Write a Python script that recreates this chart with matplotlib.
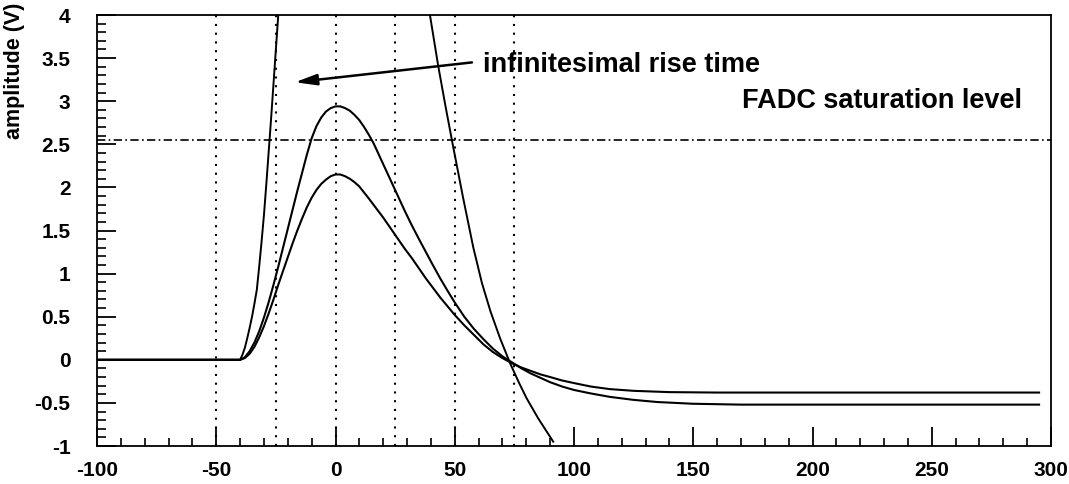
import numpy as np
import matplotlib
matplotlib.use("Agg")
import matplotlib.pyplot as plt
from matplotlib.ticker import MultipleLocator

# pulse with infinitesimal rise time (goes off scale above 4 V)
fast_t = [-100, -40, -39, -38, -37, -36, -35, -34, -33, -32, -31, -30, -29, -28, -27, -26,
          -25, -24, -23, 37.5, 39.6, 43, 46, 49, 53.5, 57.8, 61.4, 65, 69, 73.2, 77, 80.2,
          85, 91.3]
fast_a = [0, 0, 0.06, 0.14, 0.25, 0.37, 0.5, 0.65, 0.81, 1.08, 1.37, 1.68, 2.04, 2.42, 2.8,
          3.2, 3.6, 4.0, 4.4, 4.37, 4.0, 3.42, 2.96, 2.52, 1.88, 1.3, 0.89, 0.56, 0.25, -0.04,
          -0.27, -0.45, -0.68, -0.95]

# taller shaped pulse
tall_t = [-100, -40, -38, -36, -34, -32, -30, -28, -26, -24, -22, -20, -18, -16, -14, -12,
          -10, -8, -6, -4, -2, 0, 2, 4, 6, 8, 10, 12, 14, 16, 18, 20, 23, 26, 29, 32, 35, 38,
          41, 44, 47, 50, 54, 58, 62, 66, 70, 74, 78, 82, 86, 90, 95, 100, 107, 115, 125,
          135, 150, 170, 295]
tall_a = [0, 0, 0.03, 0.1, 0.2, 0.33, 0.49, 0.67, 0.87, 1.08, 1.3, 1.52, 1.74, 1.96, 2.17,
          2.38, 2.57, 2.71, 2.81, 2.88, 2.92, 2.94, 2.94, 2.92, 2.89, 2.84, 2.78, 2.7, 2.61,
          2.51, 2.39, 2.27, 2.09, 1.91, 1.73, 1.56, 1.4, 1.245, 1.09, 0.94, 0.8, 0.665, 0.5,
          0.36, 0.24, 0.13, 0.04, -0.03, -0.1, -0.16, -0.21, -0.26, -0.31, -0.35, -0.39,
          -0.43, -0.465, -0.49, -0.51, -0.52, -0.52]

# lower shaped pulse
low_t = [-100, -40, -38, -36, -34, -32, -30, -28, -26, -24, -22, -20, -18, -16, -14, -12,
         -10, -8, -6, -4, -2, 0, 2, 4, 6, 8, 10, 12, 14, 17, 20, 23, 26, 29, 32, 35, 38, 41,
         44, 47, 50, 54, 58, 62, 66, 70, 74, 78, 82, 86, 90, 95, 100, 107, 115, 125, 140,
         160, 295]
low_a = [0, 0, 0.02, 0.07, 0.15, 0.26, 0.39, 0.54, 0.7, 0.87, 1.03, 1.19, 1.35, 1.5, 1.64,
         1.77, 1.88, 1.97, 2.04, 2.09, 2.13, 2.15, 2.15, 2.13, 2.1, 2.06, 2.01, 1.94, 1.87,
         1.76, 1.65, 1.53, 1.41, 1.29, 1.18, 1.06, 0.94, 0.83, 0.72, 0.62, 0.52, 0.4, 0.29,
         0.18, 0.09, 0.02, -0.04, -0.09, -0.13, -0.17, -0.2, -0.24, -0.27, -0.31, -0.34,
         -0.36, -0.375, -0.38, -0.38]

sample_times = [-50, -25, 0, 25, 50, 75]     # dotted verticals
saturation = 2.55                            # FADC saturation level (V)

x_ticks = [-100, -50, 0, 50, 100, 150, 200, 250, 300]
x_labels = ['-100', '-50', '0', '50', '100', '150', '200', '250', '300']
y_ticks = [-1, -0.5, 0, 0.5, 1, 1.5, 2, 2.5, 3, 3.5, 4]
y_labels = ['-1', '-0.5', '0', '0.5', '1', '1.5', '2', '2.5', '3', '3.5', '4']

plt.rcParams['font.family'] = ['Liberation Sans', 'DejaVu Sans']
plt.rcParams['font.weight'] = 'bold'

fig = plt.figure(figsize=(10.69, 4.84), dpi=100)
ax = fig.add_axes([97/1069, 1 - 446/484, (1051-97)/1069, (446-15)/484])

for t in sample_times:
    ax.axvline(t, color='k', lw=1.5, ls=(0, (1, 3.2)))
ax.axhline(saturation, color='k', lw=1.2, ls=(0, (5, 2, 1, 2)))

ax.plot(fast_t, fast_a, color='k', lw=1.4)
ax.plot(tall_t, tall_a, color='k', lw=1.5)
ax.plot(low_t, low_a, color='k', lw=1.5)

ax.annotate('', xy=(-17, 3.22), xytext=(57.2, 3.45),
            arrowprops=dict(arrowstyle='-|>,head_length=1.3,head_width=0.33',
                            color='k', lw=1.8, shrinkA=0, shrinkB=0))
ax.text(61.7, 3.34, 'infinitesimal rise time', fontsize=19.5, fontweight='bold',
        ha='left', va='baseline')
ax.text(170.4, 2.92, 'FADC saturation level', fontsize=19.5, fontweight='bold',
        ha='left', va='baseline')

ax.set_xlim(-100, 300)
ax.set_ylim(-1, 4)
ax.set_xticks(x_ticks)
ax.set_xticklabels(x_labels)
ax.set_yticks(y_ticks)
ax.set_yticklabels(y_labels)
ax.xaxis.set_minor_locator(MultipleLocator(10))
ax.yaxis.set_minor_locator(MultipleLocator(0.1))
ax.tick_params(which='both', direction='in', top=False, right=False, labelsize=15)
ax.tick_params(axis='x', which='major', length=14, width=1.3, pad=11)
ax.tick_params(axis='x', which='minor', length=6, width=1.2)
ax.tick_params(axis='y', which='major', length=14, width=1.3, pad=19)
ax.tick_params(axis='y', which='minor', length=6.5, width=1.2)
for lab in ax.get_xticklabels() + ax.get_yticklabels():
    lab.set_fontweight('bold')
for s in ax.spines.values():
    s.set_linewidth(1.3)

fig.text(15/1069, 1 - 71/484, 'amplitude (V)', rotation=90, fontsize=15.5,
         fontweight='bold', ha='center', va='center')

fig.savefig('out.png', dpi=100)
